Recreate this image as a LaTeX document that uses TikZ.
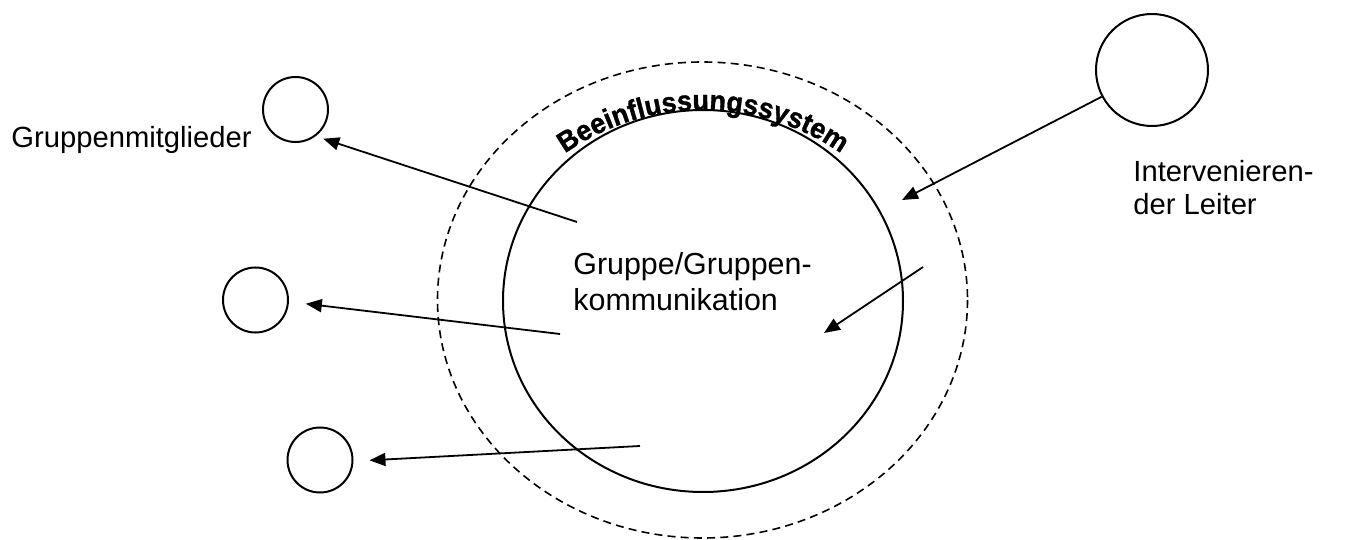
\documentclass[tikz,border=0pt]{standalone}
\usepackage{fontspec}
\setmainfont{Liberation Sans}
\newfontfamily\bogenfont[FakeStretch=0.95,FakeBold=1.2]{Liberation Sans}
\usetikzlibrary{arrows.meta,decorations.text}
\begin{document}
\begin{tikzpicture}[x=0.5pt,y=-0.5pt,
	person/.style={draw,circle,line width=1pt,inner sep=0pt,minimum size=32.5pt},
	label/.style={inner sep=0pt,font=\fontsize{14.6}{17}\selectfont,align=left},
	pfeil/.style={line width=0.9pt,-{Triangle[length=8pt,width=6.5pt]}}]
	\useasboundingbox (0,0) rectangle (1346,540);
	% Gruppe und Beeinflussungssystem
	\draw[line width=0.8pt,dash pattern=on 4pt off 2.6pt] (702.5,300) ellipse [x radius=265,y radius=238];
	\draw[line width=1pt] (703,301) ellipse [x radius=200,y radius=191];
	\path[decorate,decoration={text along path,text align=center,
		text={|\bogenfont\fontsize{14.2}{16}\selectfont\bfseries|Beeinflussungssystem}}]
		(703,351) ++(-126:241) arc [start angle=-126,end angle=-54,radius=241];
	\node[label,anchor=base west,font=\fontsize{15.2}{17.5}\selectfont] (grp) at (573,310) {Gruppe/Gruppen-\\kommunikation};
	% Mitglieder und Leiter
	\node[person] (m1) at (295.5,109.5) {};
	\node[person] (m2) at (255.5,300) {};
	\node[person] (m3) at (320,460) {};
	\node[person,minimum size=56pt] (ldr) at (1152,70) {};
	\node[label,anchor=base west] (mtxt) at (11,148) {Gruppenmitglieder};
	\node[label,anchor=base west] (ltxt) at (1133,215) {Intervenieren-\\der Leiter};
	% Pfeile
	\coordinate (s1) at (577,222);
	\coordinate (s2) at (560,334);
	\coordinate (s3) at (640,446);
	\coordinate (t4) at (902,200);
	\coordinate (s5) at (923,267);
	\coordinate (t5) at (824,333);
	\draw[pfeil,shorten >=4pt] (s1) -- (m1.-53);
	\draw[pfeil,shorten >=8.5pt] (s2) -- (m2.-3.5);
	\draw[pfeil,shorten >=8pt] (s3) -- (m3.-2.4);
	\draw[pfeil] (ldr.208) -- (t4);
	\draw[pfeil] (s5) -- (t5);
\end{tikzpicture}
\end{document}
